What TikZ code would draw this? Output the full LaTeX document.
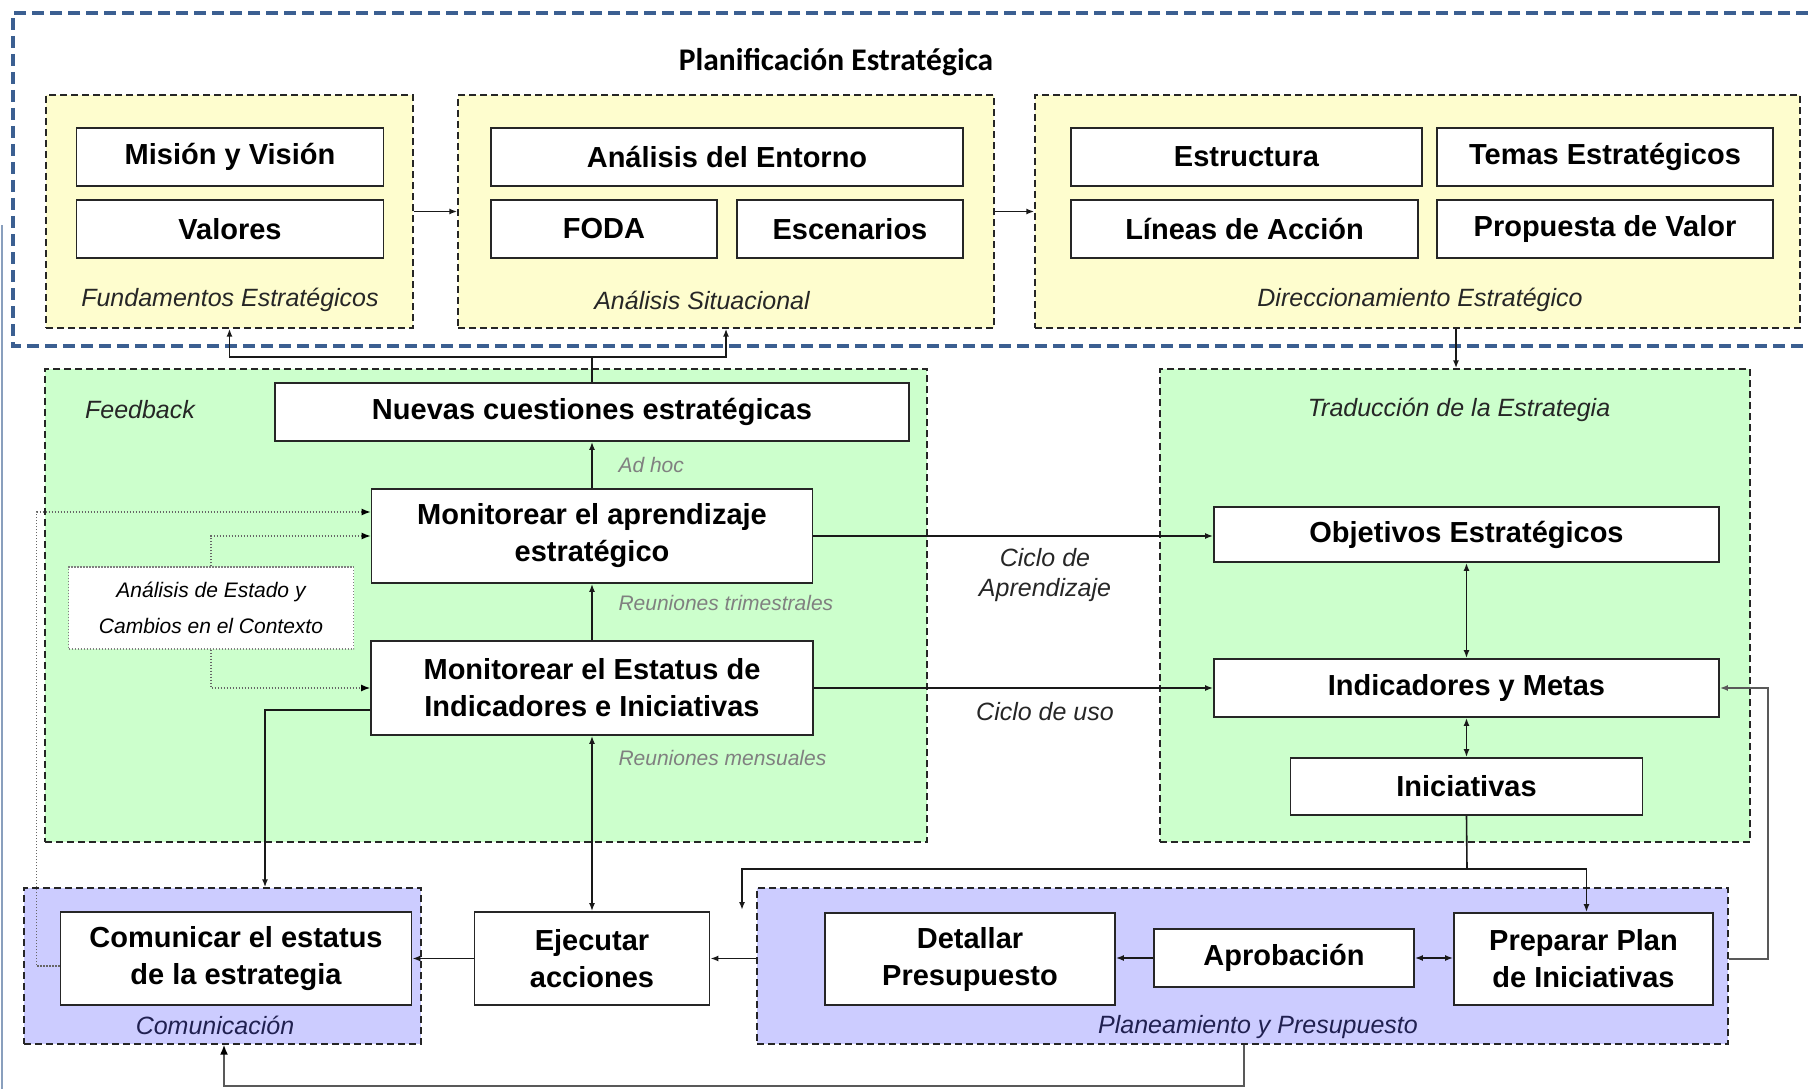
\documentclass[tikz,border=0pt]{standalone}
\usepackage{fontspec}
\setmainfont{Liberation Sans}
\newfontfamily\titlefont{Carlito}
\usetikzlibrary{arrows.meta}

\definecolor{planblue}{RGB}{59,95,145}
\definecolor{paleyellow}{RGB}{254,253,206}
\definecolor{palegreen}{RGB}{204,255,204}
\definecolor{palelilac}{RGB}{204,204,255}
\definecolor{navytext}{RGB}{32,32,80}

\begin{document}
\begin{tikzpicture}[x=1pt,y=-1pt]
\tikzstyle{region} = [rectangle, draw=black!85, line width=1.4pt,
dash pattern=on 7pt off 4pt, inner sep=0pt]
\tikzstyle{box} = [rectangle, draw=black!85, line width=1.8pt, fill=white,
inner sep=0pt, align=center, font=\fontsize{29}{37}\selectfont\bfseries]
\tikzstyle{ctxbox} = [rectangle, draw=black!50, line width=1.2pt, dash pattern=on 1.2pt off 1.8pt,
fill=white, inner sep=0pt, align=center, font=\fontsize{21}{36}\selectfont\itshape]
\tikzstyle{tag} = [font=\fontsize{25}{30}\selectfont\itshape, text=black!85, align=center]
\tikzstyle{note} = [font=\fontsize{21}{26}\selectfont\itshape, text=black!50, anchor=west]
\tikzstyle{line} = [draw=black!90, line width=1.6pt, -{Latex[length=8pt,width=6pt]}]
\tikzstyle{both} = [draw=black!90, line width=1.6pt, {Latex[length=8pt,width=6pt]}-{Latex[length=8pt,width=6pt]}]
\tikzstyle{dots} = [draw=black!60, line width=1.3pt, dash pattern=on 1.2pt off 1.8pt,
-{Latex[length=9pt,width=7pt,color=black]}]

\useasboundingbox (0,0) rectangle (1808,1089);

% frame of the planning block
\draw[draw=planblue!60!white, line width=2pt] (1.5,225) -- (1.5,1089);
\draw[draw=planblue, line width=3.5pt, dash pattern=on 12pt off 6pt]
  (1808,13) -| (13,346) -- (1808,346);
\node[font={\titlefont\fontsize{31.5}{36}\selectfont\bfseries}] (title) at (836,62) {Planificación Estratégica};

% regions
\node[region, fill=paleyellow, minimum width=367pt, minimum height=233pt] (fund) at (229.5,211.5) {};
\node[region, fill=paleyellow, minimum width=536pt, minimum height=233pt] (situacion) at (726,211.5) {};
\node[region, fill=paleyellow, minimum width=765pt, minimum height=233pt] (direc) at (1417.5,211.5) {};
\node[region, fill=palegreen, minimum width=882pt, minimum height=473pt] (feedback) at (486,605.5) {};
\node[region, fill=palegreen, minimum width=590pt, minimum height=473pt] (traduccion) at (1455,605.5) {};
\node[region, fill=palelilac, minimum width=397pt, minimum height=156pt] (comunicacion) at (222.5,966) {};
\node[region, fill=palelilac, minimum width=971pt, minimum height=156pt] (planeamiento) at (1242.5,966) {};

% region names
\node[tag] (fundtag) at (230,300) {Fundamentos Estratégicos};
\node[tag] (situtag) at (702,300) {Análisis Situacional};
\node[tag] (directag) at (1420,300) {Direccionamiento Estratégico};
\node[tag] (feedtag) at (140,410) {Feedback};
\node[tag] (tradtag) at (1459,410) {Traducción de la Estrategia};
\node[tag, text=navytext] (comtag) at (215,1025) {Comunicación};
\node[tag, text=navytext] (plantag) at (1258,1027) {Planeamiento y Presupuesto};

% top row
\node[box, minimum width=307pt, minimum height=58pt] (mision) at (230,157) {Misión y Visión};
\node[box, minimum width=307pt, minimum height=58pt] (valores) at (230,229) {Valores};
\node[box, minimum width=472pt, minimum height=58pt] (entorno) at (727,157) {Análisis del Entorno};
\node[box, minimum width=226pt, minimum height=58pt] (foda) at (604,229) {FODA};
\node[box, minimum width=226pt, minimum height=58pt] (escenarios) at (850,229) {Escenarios};
\node[box, minimum width=351pt, minimum height=58pt] (estructura) at (1246.5,157) {Estructura};
\node[box, minimum width=336pt, minimum height=58pt] (temas) at (1605,157) {Temas Estratégicos};
\node[box, minimum width=347pt, minimum height=58pt] (lineas) at (1244.5,229) {Líneas de Acción};
\node[box, minimum width=336pt, minimum height=58pt] (propuesta) at (1605,229) {Propuesta de Valor};

% feedback
\node[box, minimum width=634pt, minimum height=58pt] (nuevas) at (592,412) {Nuevas cuestiones estratégicas};
\node[box, minimum width=441pt, minimum height=94pt] (aprend) at (592,536) {Monitorear el aprendizaje\\estratégico};
\node[box, minimum width=442pt, minimum height=94pt] (estatus) at (592,688) {Monitorear el Estatus de\\Indicadores e Iniciativas};
\node[ctxbox, minimum width=285pt, minimum height=82pt] (contexto) at (211,608) {Análisis de Estado y\\Cambios en el Contexto};
\node[note] (adhoc) at (615,465) {Ad hoc};
\node[note] (trimestral) at (615,603) {Reuniones trimestrales};
\node[note] (mensual) at (615,758) {Reuniones mensuales};

% traduccion
\node[box, minimum width=505pt, minimum height=55pt] (objetivos) at (1466.5,534.5) {Objetivos Estratégicos};
\node[box, minimum width=505pt, minimum height=58pt] (indicadores) at (1466.5,688) {Indicadores y Metas};
\node[box, minimum width=352pt, minimum height=57pt] (iniciativas) at (1466.5,786.5) {Iniciativas};
\node[tag] (cicloapr) at (1045,575) {Ciclo de\\Aprendizaje};
\node[tag] (ciclouso) at (1045,712) {Ciclo de uso};

% bottom row
\node[box, minimum width=351pt, minimum height=93pt] (comunicar) at (236,958.5) {Comunicar el estatus\\de la estrategia};
\node[box, minimum width=235pt, minimum height=93pt] (ejecutar) at (592,958.5) {Ejecutar\\acciones};
\node[box, minimum width=290pt, minimum height=92pt] (detallar) at (970,959) {Detallar\\Presupuesto};
\node[box, minimum width=260pt, minimum height=58pt] (aprobacion) at (1284,958) {Aprobación};
\node[box, minimum width=259pt, minimum height=92pt] (preparar) at (1583.5,959) {Preparar Plan\\de Iniciativas};

\coordinate (fork) at (592,357);
\coordinate (split) at (1467,869);
\coordinate (planin) at (742,910);

% connectors
\path[line] (fund) -- (situacion);
\path[line] (situacion) -- (direc);
\path[line] ([xshift=38.5pt]direc.south) -- ([xshift=1pt]traduccion.north);
\path[draw=black!90, line width=1.6pt] (nuevas.north) -- (fork);
\path[line] (fork) -| (fund.south);
\path[line] (fork) -| (situacion.south);
\path[line] (aprend) -- (nuevas);
\path[line] (estatus) -- (aprend);
\path[both] (estatus) -- (ejecutar);
\path[line] (aprend.east) -- (aprend.east -| objetivos.west);
\path[line] (estatus.east) -- (estatus.east -| indicadores.west);
\path[both] (objetivos) -- (indicadores);
\path[both] (indicadores) -- (iniciativas);
\path[draw=black!90, line width=1.6pt] (iniciativas.south) -- (split);
\path[line] (split) -| (planin);
\path[line] (split) -| ([xshift=3pt]preparar.north);
\path[line, draw=black!65] (preparar.east -| planeamiento.east) -- ++(39,0) |- (indicadores.east);
\path[line] (aprobacion.west) -- (aprobacion.west -| detallar.east);
\path[both] (aprobacion.east) -- (aprobacion.east -| preparar.west);
\path[line] (ejecutar.east -| planeamiento.west) -- (ejecutar.east);
\path[line] (ejecutar.west) -- (comunicar.east);
\path[line] ([yshift=-22pt]estatus.west) -| ([xshift=42.5pt]comunicacion.north);
\path[line, draw=black!65, -{Latex[length=10pt,width=8pt,color=black]}] ([xshift=1.5pt]planeamiento.south) -- ++(0,41) -| ([xshift=1.5pt]comunicacion.south);
\path[dots] (contexto.north) |- (aprend.west);
\path[dots] (contexto.south) |- (estatus.west);
\path[dots] ([yshift=-7.5pt]comunicar.west) -- ++(-23,0) |- ([yshift=24pt]aprend.west);

\end{tikzpicture}
\end{document}
